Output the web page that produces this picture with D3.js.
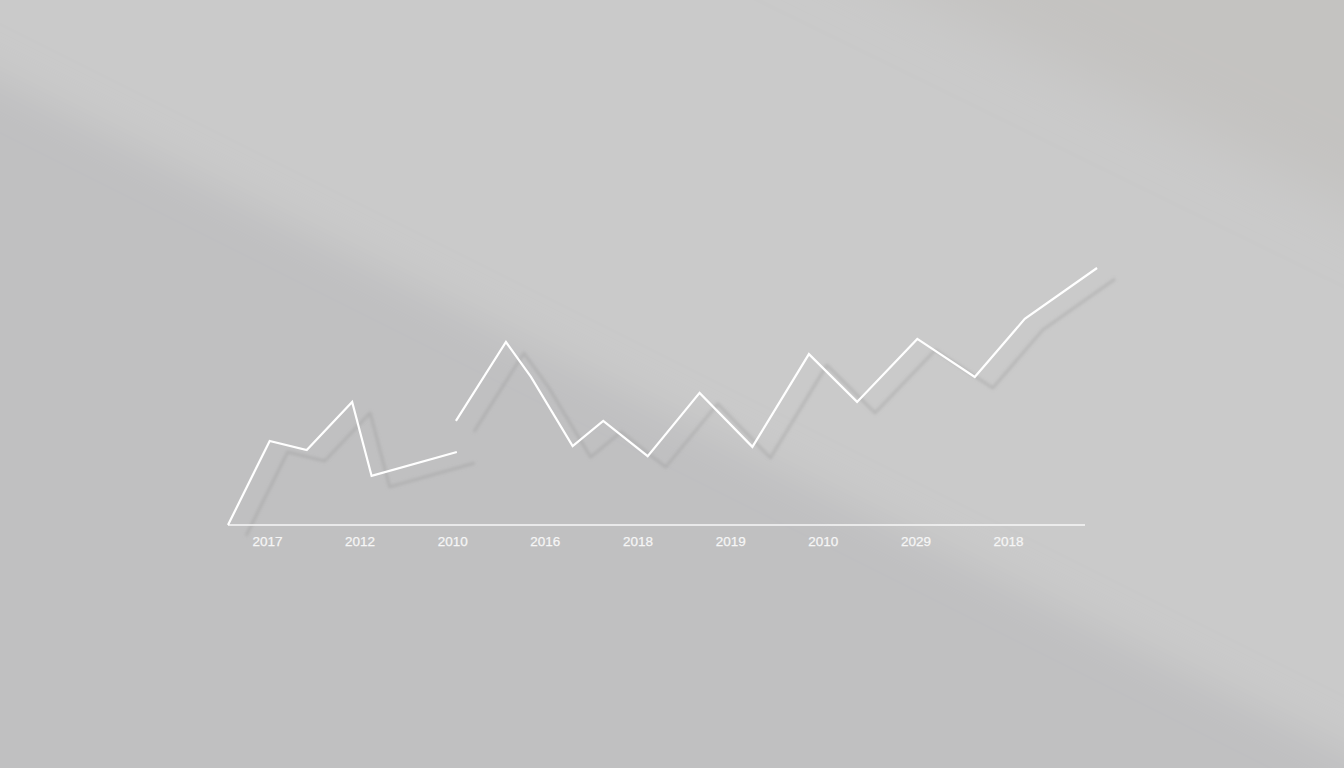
<!DOCTYPE html>
<html><head><meta charset="utf-8">
<script src="https://cdn.jsdelivr.net/npm/d3@7"></script>
<style>html,body{margin:0;padding:0;overflow:hidden;background:#cacaca}</style>
</head><body>
<svg id="chart" width="1344" height="768"></svg>
<script>
// Tick labels (categories along the x axis)
const tickLabels = ["2017","2012","2010","2016","2018","2019","2010","2029","2018"];
// Line series, segment 1 (x in tick-index units, y values)
const seg1X = [-0.42, 0.03, 0.43, 0.92, 1.13, 2.05];
const seg1Y = [0, 32.7, 29.2, 47.9, 19.1, 28.4];
// Line series, segment 2
const seg2X = [2.04, 2.58, 2.85, 3.30, 3.63, 4.11, 4.67, 5.24, 5.85, 6.37, 7.02, 7.64, 8.18, 8.96];
const seg2Y = [40.5, 71.2, 57.6, 30.7, 40.5, 26.8, 51.4, 30.4, 66.5, 47.9, 72.4, 57.6, 80.2, 100];
const xDomain = [-0.42, 8.83];

const W = 1344, H = 768;
const svg = d3.select("#chart");
const defs = svg.append("defs");

function blurFilter(id, sd) {
  const f = defs.append("filter").attr("id", id).attr("filterUnits","userSpaceOnUse")
    .attr("x",-500).attr("y",-500).attr("width",2400).attr("height",1800);
  f.append("feGaussianBlur").attr("stdDeviation", sd);
}
blurFilter("b20", 20);
blurFilter("b30", 30);

// Background: light base
svg.append("rect").attr("width",W).attr("height",H).attr("fill","#cacaca");
// darker lower-left region below the diagonal
const darkLow = [[-200,-20],[1600,880],[1600,1000],[-200,1000]];
svg.append("path").attr("d", d3.line()(darkLow)+"Z").attr("fill","#c0c0c1").attr("filter","url(#b20)");
// darker top-right region
const darkTop = [[720,-100],[1600,-100],[1600,330]];
svg.append("path").attr("d", d3.line()(darkTop)+"Z").attr("fill","#c4c3c1").attr("filter","url(#b30)");

// Scales
const x = d3.scaleLinear().domain(xDomain).range([228, 1085]);
const y = d3.scaleLinear().domain([0, 100]).range([525, 268]);

const line = d3.line().x(d => x(d[0])).y(d => y(d[1]));
const s1 = seg1X.map((v,i) => [v, seg1Y[i]]);
const s2 = seg2X.map((v,i) => [v, seg2Y[i]]);

// Shadow
const sh = defs.append("filter").attr("id","sh").attr("filterUnits","userSpaceOnUse")
  .attr("x",0).attr("y",0).attr("width",W).attr("height",H);
sh.append("feGaussianBlur").attr("stdDeviation",1.5);
const shadowG = svg.append("g").attr("transform","translate(18,11)").attr("filter","url(#sh)");
[s1, s2].forEach(s => shadowG.append("path").attr("d", line(s)).attr("fill","none")
  .attr("stroke","#9a9a9b").attr("stroke-opacity",0.4).attr("stroke-width",3).attr("stroke-linejoin","round"));

// Axis
const axis = d3.axisBottom(x)
  .tickValues(d3.range(tickLabels.length)).tickFormat(i => tickLabels[i]).tickSize(0).tickPadding(11);
const ax = svg.append("g").attr("transform","translate(0,525)").call(axis);
ax.select(".domain").attr("stroke","#f7f7f7").attr("stroke-width",1.6).attr("d","M228,0H1085");
ax.selectAll("text").attr("fill","#f6f6f6").attr("font-family","'Liberation Sans', Arial, sans-serif")
  .attr("font-size",13.5).attr("stroke","#f6f6f6").attr("stroke-width",0.25);

// Main line
[s1, s2].forEach(s => svg.append("path").attr("d", line(s)).attr("fill","none")
  .attr("stroke","#ffffff").attr("stroke-width",2.2).attr("stroke-linejoin","miter"));
</script>
</body></html>
